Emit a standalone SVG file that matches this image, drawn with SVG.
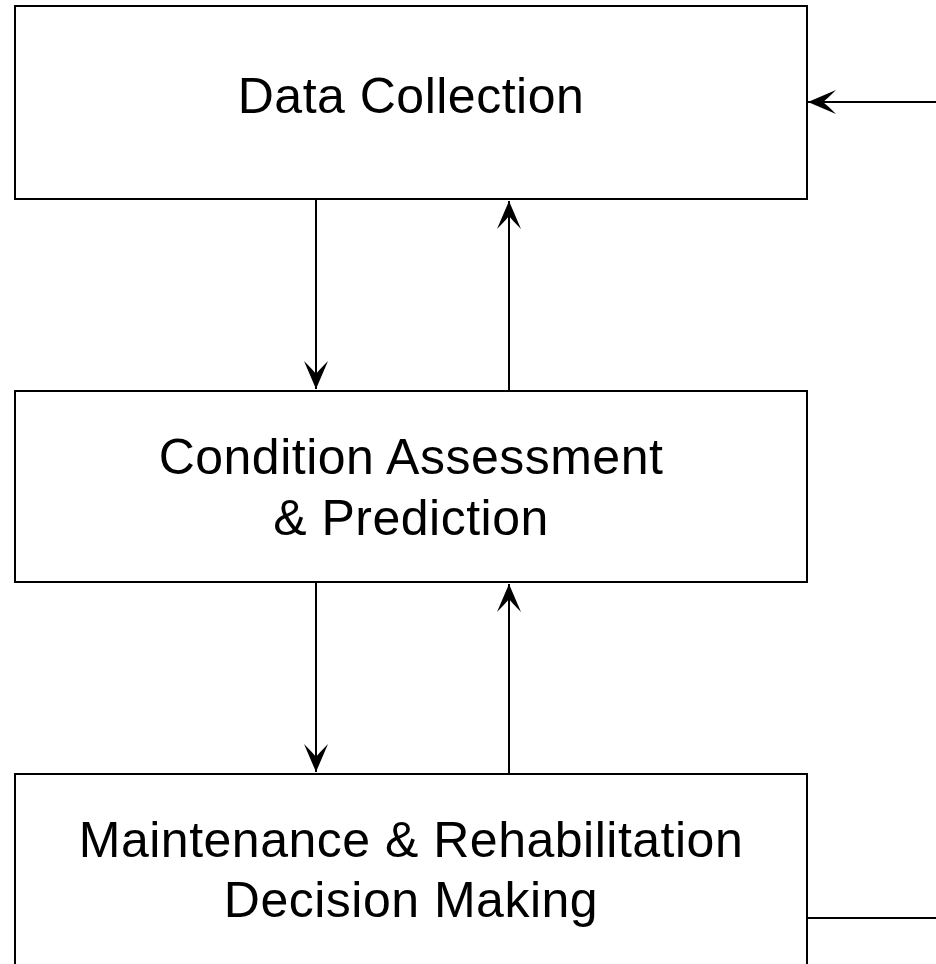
<svg xmlns="http://www.w3.org/2000/svg" width="936" height="964" viewBox="0 0 936 964">
<style>
.box{fill:#fff;stroke:#000;stroke-width:2}
.lbl{font-family:"Liberation Sans",Arial,sans-serif;font-size:50px;letter-spacing:0.5px;fill:#000;text-anchor:middle}
.conn{fill:none;stroke:#000;stroke-width:2}
</style>
<defs>
<marker id="arr" markerUnits="userSpaceOnUse" markerWidth="32" markerHeight="28" viewBox="-30 -14 32 28" refX="0" refY="0" orient="auto" overflow="visible">
<path d="M0,0 L-28,-12 Q-19,-3 -15,0 Q-19,3 -28,12 Z" fill="#000"/>
</marker>
</defs>
<rect width="936" height="964" fill="#fff"/>
<g id="data-collection">
<rect class="box" x="15" y="6" width="792" height="193"/>
<text class="lbl" x="411" y="113">Data Collection</text>
</g>
<g id="condition-assessment">
<rect class="box" x="15" y="391" width="792" height="191"/>
<text class="lbl" x="411" y="474">Condition Assessment</text>
<text class="lbl" x="411" y="535">&amp; Prediction</text>
</g>
<g id="maintenance-decision">
<rect class="box" x="15" y="774" width="792" height="200"/>
<text class="lbl" x="411" y="857">Maintenance &amp; Rehabilitation</text>
<text class="lbl" x="411" y="917">Decision Making</text>
</g>
<g id="connectors">
<line class="conn" x1="316" y1="199" x2="316" y2="389" marker-end="url(#arr)"/>
<line class="conn" x1="509" y1="391" x2="509" y2="201" marker-end="url(#arr)"/>
<line class="conn" x1="316" y1="582" x2="316" y2="772" marker-end="url(#arr)"/>
<line class="conn" x1="509" y1="774" x2="509" y2="584" marker-end="url(#arr)"/>
<line class="conn" x1="807" y1="918" x2="936" y2="918"/>
<line class="conn" x1="936" y1="102" x2="808" y2="102" marker-end="url(#arr)"/>
</g>
</svg>
